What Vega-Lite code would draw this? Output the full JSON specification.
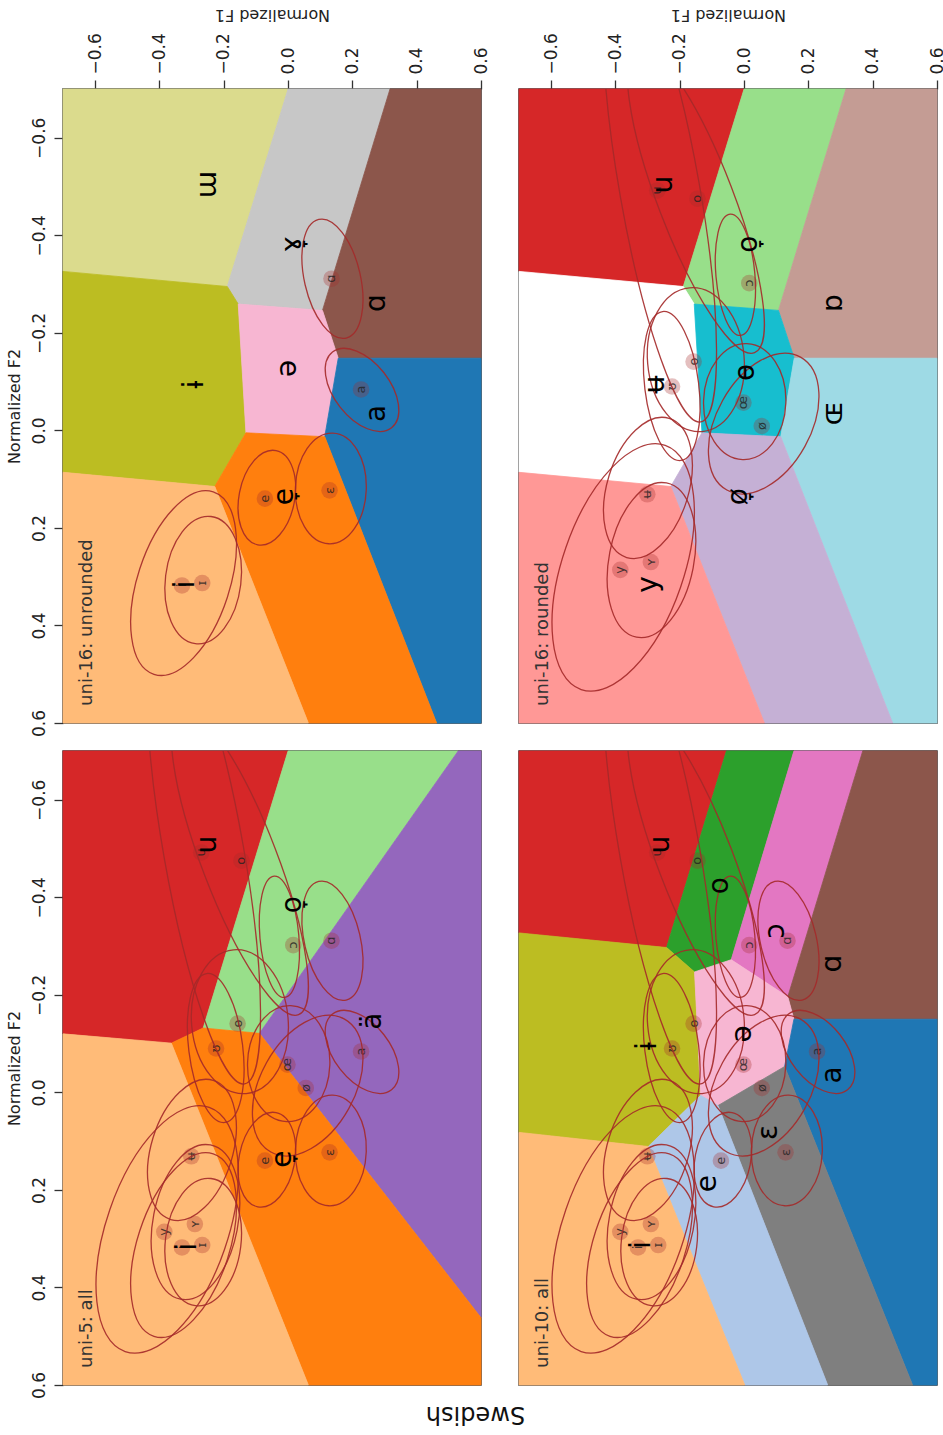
{
"$schema": "https://vega.github.io/schema/vega-lite/v6.json",
"background": "white",
"padding": 5,
"config": {
  "font": "DejaVu Sans",
  "view": {"stroke": "#333", "strokeWidth": 1.5},
  "axis": {"labelFontSize": 17, "titleFontSize": 16, "titleFontWeight": "normal", "labelColor": "#222", "titleColor": "#222", "tickColor": "#333", "tickWidth": 1.3, "tickSize": 9, "domain": false, "grid": false}
},
"title": {"text": "Swedish", "orient": "bottom", "anchor": "middle", "align": "center", "angle": 180, "baseline": "bottom", "fontSize": 24, "fontWeight": "normal", "color": "#111", "offset": 3},
"datasets": {
  "regions": [
    {"p":"p1","c":"ɯ","k":0,"f1":-0.7,"f2":-0.7},{"p":"p1","c":"ɯ","k":1,"f1":0.0,"f2":-0.7},{"p":"p1","c":"ɯ","k":2,"f1":-0.189,"f2":-0.295},{"p":"p1","c":"ɯ","k":3,"f1":-0.7,"f2":-0.326},
    {"p":"p1","c":"ɤ̞","k":0,"f1":0.0,"f2":-0.7},{"p":"p1","c":"ɤ̞","k":1,"f1":0.317,"f2":-0.7},{"p":"p1","c":"ɤ̞","k":2,"f1":0.107,"f2":-0.246},{"p":"p1","c":"ɤ̞","k":3,"f1":-0.155,"f2":-0.259},{"p":"p1","c":"ɤ̞","k":4,"f1":-0.189,"f2":-0.295},
    {"p":"p1","c":"ɑ","k":0,"f1":0.317,"f2":-0.7},{"p":"p1","c":"ɑ","k":1,"f1":0.6,"f2":-0.7},{"p":"p1","c":"ɑ","k":2,"f1":0.6,"f2":-0.148},{"p":"p1","c":"ɑ","k":3,"f1":0.156,"f2":-0.148},{"p":"p1","c":"ɑ","k":4,"f1":0.107,"f2":-0.246},
    {"p":"p1","c":"ɨ","k":0,"f1":-0.7,"f2":-0.326},{"p":"p1","c":"ɨ","k":1,"f1":-0.189,"f2":-0.295},{"p":"p1","c":"ɨ","k":2,"f1":-0.155,"f2":-0.259},{"p":"p1","c":"ɨ","k":3,"f1":-0.131,"f2":0.005},{"p":"p1","c":"ɨ","k":4,"f1":-0.228,"f2":0.115},{"p":"p1","c":"ɨ","k":5,"f1":-0.7,"f2":0.086},
    {"p":"p1","c":"ə","k":0,"f1":-0.155,"f2":-0.259},{"p":"p1","c":"ə","k":1,"f1":0.107,"f2":-0.246},{"p":"p1","c":"ə","k":2,"f1":0.156,"f2":-0.148},{"p":"p1","c":"ə","k":3,"f1":0.114,"f2":0.013},{"p":"p1","c":"ə","k":4,"f1":-0.131,"f2":0.005},
    {"p":"p1","c":"a","k":0,"f1":0.156,"f2":-0.148},{"p":"p1","c":"a","k":1,"f1":0.6,"f2":-0.148},{"p":"p1","c":"a","k":2,"f1":0.6,"f2":0.6},{"p":"p1","c":"a","k":3,"f1":0.462,"f2":0.6},{"p":"p1","c":"a","k":4,"f1":0.114,"f2":0.013},
    {"p":"p1","c":"e̞","k":0,"f1":-0.131,"f2":0.005},{"p":"p1","c":"e̞","k":1,"f1":0.114,"f2":0.013},{"p":"p1","c":"e̞","k":2,"f1":0.462,"f2":0.6},{"p":"p1","c":"e̞","k":3,"f1":0.063,"f2":0.6},{"p":"p1","c":"e̞","k":4,"f1":-0.228,"f2":0.115},
    {"p":"p1","c":"i","k":0,"f1":-0.7,"f2":0.086},{"p":"p1","c":"i","k":1,"f1":-0.228,"f2":0.115},{"p":"p1","c":"i","k":2,"f1":0.063,"f2":0.6},{"p":"p1","c":"i","k":3,"f1":-0.7,"f2":0.6},

    {"p":"p2","c":"u","k":0,"f1":-0.7,"f2":-0.7},{"p":"p2","c":"u","k":1,"f1":0.0,"f2":-0.7},{"p":"p2","c":"u","k":2,"f1":-0.189,"f2":-0.295},{"p":"p2","c":"u","k":3,"f1":-0.7,"f2":-0.326},
    {"p":"p2","c":"o̞","k":0,"f1":0.0,"f2":-0.7},{"p":"p2","c":"o̞","k":1,"f1":0.317,"f2":-0.7},{"p":"p2","c":"o̞","k":2,"f1":0.107,"f2":-0.246},{"p":"p2","c":"o̞","k":3,"f1":-0.155,"f2":-0.259},{"p":"p2","c":"o̞","k":4,"f1":-0.189,"f2":-0.295},
    {"p":"p2","c":"ɒ","k":0,"f1":0.317,"f2":-0.7},{"p":"p2","c":"ɒ","k":1,"f1":0.6,"f2":-0.7},{"p":"p2","c":"ɒ","k":2,"f1":0.6,"f2":-0.148},{"p":"p2","c":"ɒ","k":3,"f1":0.156,"f2":-0.148},{"p":"p2","c":"ɒ","k":4,"f1":0.107,"f2":-0.246},
    {"p":"p2","c":"ʉ","k":0,"f1":-0.7,"f2":-0.326},{"p":"p2","c":"ʉ","k":1,"f1":-0.189,"f2":-0.295},{"p":"p2","c":"ʉ","k":2,"f1":-0.155,"f2":-0.259},{"p":"p2","c":"ʉ","k":3,"f1":-0.131,"f2":0.005},{"p":"p2","c":"ʉ","k":4,"f1":-0.228,"f2":0.115},{"p":"p2","c":"ʉ","k":5,"f1":-0.7,"f2":0.086},
    {"p":"p2","c":"ɵ","k":0,"f1":-0.155,"f2":-0.259},{"p":"p2","c":"ɵ","k":1,"f1":0.107,"f2":-0.246},{"p":"p2","c":"ɵ","k":2,"f1":0.156,"f2":-0.148},{"p":"p2","c":"ɵ","k":3,"f1":0.114,"f2":0.013},{"p":"p2","c":"ɵ","k":4,"f1":-0.131,"f2":0.005},
    {"p":"p2","c":"ɶ","k":0,"f1":0.156,"f2":-0.148},{"p":"p2","c":"ɶ","k":1,"f1":0.6,"f2":-0.148},{"p":"p2","c":"ɶ","k":2,"f1":0.6,"f2":0.6},{"p":"p2","c":"ɶ","k":3,"f1":0.462,"f2":0.6},{"p":"p2","c":"ɶ","k":4,"f1":0.114,"f2":0.013},
    {"p":"p2","c":"ø̞","k":0,"f1":-0.131,"f2":0.005},{"p":"p2","c":"ø̞","k":1,"f1":0.114,"f2":0.013},{"p":"p2","c":"ø̞","k":2,"f1":0.462,"f2":0.6},{"p":"p2","c":"ø̞","k":3,"f1":0.063,"f2":0.6},{"p":"p2","c":"ø̞","k":4,"f1":-0.228,"f2":0.115},
    {"p":"p2","c":"y","k":0,"f1":-0.7,"f2":0.086},{"p":"p2","c":"y","k":1,"f1":-0.228,"f2":0.115},{"p":"p2","c":"y","k":2,"f1":0.063,"f2":0.6},{"p":"p2","c":"y","k":3,"f1":-0.7,"f2":0.6},

    {"p":"p3","c":"u","k":0,"f1":-0.7,"f2":-0.7},{"p":"p3","c":"u","k":1,"f1":0.0,"f2":-0.7},{"p":"p3","c":"u","k":2,"f1":-0.264,"f2":-0.132},{"p":"p3","c":"u","k":3,"f1":-0.363,"f2":-0.101},{"p":"p3","c":"u","k":4,"f1":-0.7,"f2":-0.12},
    {"p":"p3","c":"o̞","k":0,"f1":0.0,"f2":-0.7},{"p":"p3","c":"o̞","k":1,"f1":0.529,"f2":-0.7},{"p":"p3","c":"o̞","k":2,"f1":-0.089,"f2":-0.121},{"p":"p3","c":"o̞","k":3,"f1":-0.264,"f2":-0.132},
    {"p":"p3","c":"ä","k":0,"f1":0.529,"f2":-0.7},{"p":"p3","c":"ä","k":1,"f1":0.6,"f2":-0.7},{"p":"p3","c":"ä","k":2,"f1":0.6,"f2":0.462},{"p":"p3","c":"ä","k":3,"f1":-0.089,"f2":-0.121},
    {"p":"p3","c":"e̞","k":0,"f1":-0.264,"f2":-0.132},{"p":"p3","c":"e̞","k":1,"f1":-0.089,"f2":-0.121},{"p":"p3","c":"e̞","k":2,"f1":0.6,"f2":0.462},{"p":"p3","c":"e̞","k":3,"f1":0.6,"f2":0.6},{"p":"p3","c":"e̞","k":4,"f1":0.063,"f2":0.6},{"p":"p3","c":"e̞","k":5,"f1":-0.363,"f2":-0.101},
    {"p":"p3","c":"i","k":0,"f1":-0.7,"f2":-0.12},{"p":"p3","c":"i","k":1,"f1":-0.363,"f2":-0.101},{"p":"p3","c":"i","k":2,"f1":0.063,"f2":0.6},{"p":"p3","c":"i","k":3,"f1":-0.7,"f2":0.6},

    {"p":"p4","c":"u","k":0,"f1":-0.7,"f2":-0.7},{"p":"p4","c":"u","k":1,"f1":-0.055,"f2":-0.7},{"p":"p4","c":"u","k":2,"f1":-0.241,"f2":-0.297},{"p":"p4","c":"u","k":3,"f1":-0.7,"f2":-0.327},
    {"p":"p4","c":"o","k":0,"f1":-0.055,"f2":-0.7},{"p":"p4","c":"o","k":1,"f1":0.155,"f2":-0.7},{"p":"p4","c":"o","k":2,"f1":-0.04,"f2":-0.272},{"p":"p4","c":"o","k":3,"f1":-0.154,"f2":-0.247},{"p":"p4","c":"o","k":4,"f1":-0.241,"f2":-0.297},
    {"p":"p4","c":"ɔ","k":0,"f1":0.155,"f2":-0.7},{"p":"p4","c":"ɔ","k":1,"f1":0.369,"f2":-0.7},{"p":"p4","c":"ɔ","k":2,"f1":0.136,"f2":-0.196},{"p":"p4","c":"ɔ","k":3,"f1":-0.04,"f2":-0.272},
    {"p":"p4","c":"ɑ","k":0,"f1":0.369,"f2":-0.7},{"p":"p4","c":"ɑ","k":1,"f1":0.6,"f2":-0.7},{"p":"p4","c":"ɑ","k":2,"f1":0.6,"f2":-0.15},{"p":"p4","c":"ɑ","k":3,"f1":0.155,"f2":-0.15},{"p":"p4","c":"ɑ","k":4,"f1":0.136,"f2":-0.196},
    {"p":"p4","c":"ɨ","k":0,"f1":-0.7,"f2":-0.327},{"p":"p4","c":"ɨ","k":1,"f1":-0.241,"f2":-0.297},{"p":"p4","c":"ɨ","k":2,"f1":-0.154,"f2":-0.247},{"p":"p4","c":"ɨ","k":3,"f1":-0.135,"f2":0.006},{"p":"p4","c":"ɨ","k":4,"f1":-0.298,"f2":0.111},{"p":"p4","c":"ɨ","k":5,"f1":-0.7,"f2":0.082},
    {"p":"p4","c":"ə","k":0,"f1":-0.154,"f2":-0.247},{"p":"p4","c":"ə","k":1,"f1":-0.04,"f2":-0.272},{"p":"p4","c":"ə","k":2,"f1":0.136,"f2":-0.196},{"p":"p4","c":"ə","k":3,"f1":0.155,"f2":-0.15},{"p":"p4","c":"ə","k":4,"f1":0.126,"f2":-0.053},{"p":"p4","c":"ə","k":5,"f1":-0.081,"f2":0.027},{"p":"p4","c":"ə","k":6,"f1":-0.135,"f2":0.006},
    {"p":"p4","c":"a","k":0,"f1":0.155,"f2":-0.15},{"p":"p4","c":"a","k":1,"f1":0.6,"f2":-0.15},{"p":"p4","c":"a","k":2,"f1":0.6,"f2":0.6},{"p":"p4","c":"a","k":3,"f1":0.524,"f2":0.6},{"p":"p4","c":"a","k":4,"f1":0.126,"f2":-0.053},
    {"p":"p4","c":"ɛ","k":0,"f1":-0.081,"f2":0.027},{"p":"p4","c":"ɛ","k":1,"f1":0.126,"f2":-0.053},{"p":"p4","c":"ɛ","k":2,"f1":0.524,"f2":0.6},{"p":"p4","c":"ɛ","k":3,"f1":0.26,"f2":0.6},
    {"p":"p4","c":"e","k":0,"f1":-0.135,"f2":0.006},{"p":"p4","c":"e","k":1,"f1":-0.081,"f2":0.027},{"p":"p4","c":"e","k":2,"f1":0.26,"f2":0.6},{"p":"p4","c":"e","k":3,"f1":0.002,"f2":0.6},{"p":"p4","c":"e","k":4,"f1":-0.298,"f2":0.111},
    {"p":"p4","c":"i","k":0,"f1":-0.7,"f2":0.082},{"p":"p4","c":"i","k":1,"f1":-0.298,"f2":0.111},{"p":"p4","c":"i","k":2,"f1":0.002,"f2":0.6},{"p":"p4","c":"i","k":3,"f1":-0.7,"f2":0.6}
  ],
  "labels": [
    {"p":"p1","c":"ɯ","f1":-0.249,"f2":-0.504},{"p":"p1","c":"ɤ̞","f1":0.016,"f2":-0.382},{"p":"p1","c":"ɑ","f1":0.275,"f2":-0.261},{"p":"p1","c":"ɨ","f1":-0.29,"f2":-0.094},{"p":"p1","c":"ə","f1":0.0,"f2":-0.127},{"p":"p1","c":"a","f1":0.275,"f2":-0.035},{"p":"p1","c":"e̞","f1":-0.01,"f2":0.136},{"p":"p1","c":"i","f1":-0.316,"f2":0.316},
    {"p":"p2","c":"u","f1":-0.249,"f2":-0.504},{"p":"p2","c":"o̞","f1":0.015,"f2":-0.382},{"p":"p2","c":"ɒ","f1":0.279,"f2":-0.261},{"p":"p2","c":"ʉ","f1":-0.275,"f2":-0.094},{"p":"p2","c":"ɵ","f1":0.005,"f2":-0.119},{"p":"p2","c":"ɶ","f1":0.279,"f2":-0.035},{"p":"p2","c":"ø̞","f1":-0.016,"f2":0.136},{"p":"p2","c":"y","f1":-0.296,"f2":0.316},
    {"p":"p3","c":"u","f1":-0.249,"f2":-0.508},{"p":"p3","c":"o̞","f1":0.016,"f2":-0.385},{"p":"p3","c":"ä","f1":0.265,"f2":-0.146},{"p":"p3","c":"e̞","f1":-0.015,"f2":0.137},{"p":"p3","c":"i","f1":-0.311,"f2":0.317},
    {"p":"p4","c":"u","f1":-0.257,"f2":-0.508},{"p":"p4","c":"o","f1":-0.076,"f2":-0.424},{"p":"p4","c":"ɔ","f1":0.1,"f2":-0.331},{"p":"p4","c":"ɑ","f1":0.276,"f2":-0.264},{"p":"p4","c":"ɨ","f1":-0.298,"f2":-0.095},{"p":"p4","c":"ə","f1":-0.003,"f2":-0.12},{"p":"p4","c":"a","f1":0.276,"f2":-0.036},{"p":"p4","c":"ɛ","f1":0.079,"f2":0.082},{"p":"p4","c":"e","f1":-0.112,"f2":0.187},{"p":"p4","c":"i","f1":-0.319,"f2":0.313}
  ],
  "vowels": [
    {"v":"u","g":"r","f1":-0.27,"f2":-0.492},{"v":"o","g":"r","f1":-0.145,"f2":-0.475},{"v":"ɔ","g":"r","f1":0.016,"f2":-0.302},{"v":"ɑ","g":"u","f1":0.135,"f2":-0.311},
    {"v":"ɵ","g":"r","f1":-0.157,"f2":-0.141},{"v":"ʊ","g":"r","f1":-0.224,"f2":-0.09},{"v":"œ","g":"r","f1":-0.002,"f2":-0.057},{"v":"ø","g":"r","f1":0.055,"f2":-0.009},
    {"v":"a","g":"u","f1":0.227,"f2":-0.084},{"v":"ɛ","g":"u","f1":0.129,"f2":0.123},{"v":"e","g":"u","f1":-0.072,"f2":0.14},{"v":"ʉ","g":"r","f1":-0.301,"f2":0.131},
    {"v":"ʏ","g":"r","f1":-0.29,"f2":0.27},{"v":"y","g":"r","f1":-0.385,"f2":0.286},{"v":"ɪ","g":"u","f1":-0.267,"f2":0.313},{"v":"i","g":"u","f1":-0.33,"f2":0.318}
  ],
  "ellipses": [
    {"v":"u","g":"r","f1":-0.262,"f2":-0.492,"sd":0.73,"tilt":80,"ratio":"0.17"},
    {"v":"o","g":"r","f1":-0.15,"f2":-0.473,"sd":0.509,"tilt":69,"ratio":"0.23"},
    {"v":"ɔ","g":"r","f1":-0.027,"f2":-0.319,"sd":0.189,"tilt":85,"ratio":"0.32"},
    {"v":"ɑ","g":"u","f1":0.138,"f2":-0.311,"sd":0.189,"tilt":77,"ratio":"0.46"},
    {"v":"ɵ","g":"r","f1":-0.15,"f2":-0.145,"sd":0.224,"tilt":85,"ratio":"0.67"},
    {"v":"ʊ","g":"r","f1":-0.225,"f2":-0.091,"sd":0.233,"tilt":83,"ratio":"0.36"},
    {"v":"œ","g":"r","f1":0.002,"f2":-0.059,"sd":0.18,"tilt":92,"ratio":"0.71"},
    {"v":"ø","g":"r","f1":0.061,"f2":-0.014,"sd":0.236,"tilt":119,"ratio":"0.62"},
    {"v":"a","g":"u","f1":0.23,"f2":-0.083,"sd":0.149,"tilt":52,"ratio":"0.58"},
    {"v":"ɛ","g":"u","f1":0.133,"f2":0.119,"sd":0.172,"tilt":92,"ratio":"0.64"},
    {"v":"e","g":"u","f1":-0.066,"f2":0.138,"sd":0.149,"tilt":101,"ratio":"0.58"},
    {"v":"ʉ","g":"r","f1":-0.299,"f2":0.118,"sd":0.226,"tilt":107,"ratio":"0.56"},
    {"v":"ʏ","g":"r","f1":-0.288,"f2":0.266,"sd":0.244,"tilt":101,"ratio":"0.54"},
    {"v":"y","g":"r","f1":-0.376,"f2":0.281,"sd":0.401,"tilt":109,"ratio":"0.47"},
    {"v":"ɪ","g":"u","f1":-0.264,"f2":0.307,"sd":0.199,"tilt":97,"ratio":"0.59"},
    {"v":"i","g":"u","f1":-0.325,"f2":0.313,"sd":0.298,"tilt":108,"ratio":"0.48"}
  ],
  "titles": [
    {"p":"p1","t":"uni-16: unrounded","f1":-0.625,"f2":0.565},
    {"p":"p2","t":"uni-16: rounded","f1":-0.625,"f2":0.565},
    {"p":"p3","t":"uni-5: all","f1":-0.625,"f2":0.565},
    {"p":"p4","t":"uni-10: all","f1":-0.625,"f2":0.565}
  ]
},
"columns": 2,
"bounds": "flush",
"spacing": {"row": 28, "column": 38},
"concat": [
  {"width": 418, "height": 634,
   "encoding": {
     "x": {"field": "f1", "type": "quantitative", "scale": {"domain": [-0.7, 0.6], "nice": false, "zero": false},
           "axis": {"orient": "top", "title": "Normalized F1", "titleAngle": 180, "titleBaseline": "top", "values": [-0.6,-0.4,-0.2,0,0.2,0.4,0.6], "format": ".1f", "labelAngle": 270, "labelFlush": false, "labelOverlap": false, "labelPadding": 6, "titlePadding": 10}},
     "y": {"field": "f2", "type": "quantitative", "scale": {"domain": [-0.7, 0.6], "nice": false, "zero": false, "reverse": true},
           "axis": {"orient": "left", "title": "Normalized F2", "values": [-0.6,-0.4,-0.2,0,0.2,0.4,0.6], "format": ".1f", "labelAngle": 270, "labelFlush": false, "labelOverlap": false, "labelPadding": 6, "titlePadding": 8}}
   },
   "layer": [
    {"data": {"name": "regions"}, "transform": [{"filter": "datum.p==='p1'"}],
     "mark": {"type": "line", "interpolate": "linear-closed", "strokeWidth": 0.8},
     "encoding": {"order": {"field": "k", "type": "quantitative"}, "detail": {"field": "c", "type": "nominal"},
       "fill": {"field": "c", "type": "nominal", "legend": null, "scale": {"domain": ["ɯ","ɤ̞","ɑ","ɨ","ə","a","e̞","i","u","o̞","ɒ","ʉ","ɵ","ɶ","ø̞","y","ä","o","ɔ","ɛ","e"], "range": ["#dbdb8d","#c7c7c7","#8c564b","#bcbd22","#f7b6d2","#1f77b4","#ff7f0e","#ffbb78","#d62728","#98df8a","#c49c94","#ffffff","#17becf","#9edae5","#c5b0d5","#ff9896","#9467bd","#2ca02c","#e377c2","#7f7f7f","#aec7e8"]}},
       "stroke": {"field": "c", "type": "nominal", "legend": null, "scale": {"domain": ["ɯ","ɤ̞","ɑ","ɨ","ə","a","e̞","i","u","o̞","ɒ","ʉ","ɵ","ɶ","ø̞","y","ä","o","ɔ","ɛ","e"], "range": ["#dbdb8d","#c7c7c7","#8c564b","#bcbd22","#f7b6d2","#1f77b4","#ff7f0e","#ffbb78","#d62728","#98df8a","#c49c94","#ffffff","#17becf","#9edae5","#c5b0d5","#ff9896","#9467bd","#2ca02c","#e377c2","#7f7f7f","#aec7e8"]}}}},
    {"data": {"name": "vowels"}, "transform": [{"filter": "datum.g==='u'"}],
     "mark": {"type": "circle", "color": "#a52a2a", "opacity": 0.3, "size": 275}},
    {"data": {"name": "vowels"}, "transform": [{"filter": "datum.g==='u'"}],
     "mark": {"type": "text", "angle": 270, "fontSize": 13, "color": "#222", "opacity": 0.8},
     "encoding": {"text": {"field": "v"}}},
    {"data": {"name": "ellipses"}, "transform": [{"filter": "datum.g==='u'"}],
     "mark": {"type": "point", "filled": false, "clip": true, "color": "#a52a2a", "strokeWidth": 1.3, "opacity": 0.9},
     "encoding": {
       "size": {"field": "sd", "type": "quantitative", "legend": null, "scale": {"type": "pow", "exponent": 2, "domain": [0, 1], "range": [0, 414736]}},
       "angle": {"field": "tilt", "type": "quantitative", "scale": {"domain": [0, 360], "range": [0, 360]}},
       "shape": {"field": "ratio", "type": "nominal", "legend": null, "scale": {"domain": ["0.17","0.23","0.32","0.36","0.46","0.47","0.48","0.54","0.56","0.58","0.59","0.62","0.64","0.67","0.71"], "range": ["M-1,0A1,0.17,0,1,1,1,0A1,0.17,0,1,1,-1,0Z","M-1,0A1,0.23,0,1,1,1,0A1,0.23,0,1,1,-1,0Z","M-1,0A1,0.32,0,1,1,1,0A1,0.32,0,1,1,-1,0Z","M-1,0A1,0.36,0,1,1,1,0A1,0.36,0,1,1,-1,0Z","M-1,0A1,0.46,0,1,1,1,0A1,0.46,0,1,1,-1,0Z","M-1,0A1,0.47,0,1,1,1,0A1,0.47,0,1,1,-1,0Z","M-1,0A1,0.48,0,1,1,1,0A1,0.48,0,1,1,-1,0Z","M-1,0A1,0.54,0,1,1,1,0A1,0.54,0,1,1,-1,0Z","M-1,0A1,0.56,0,1,1,1,0A1,0.56,0,1,1,-1,0Z","M-1,0A1,0.58,0,1,1,1,0A1,0.58,0,1,1,-1,0Z","M-1,0A1,0.59,0,1,1,1,0A1,0.59,0,1,1,-1,0Z","M-1,0A1,0.62,0,1,1,1,0A1,0.62,0,1,1,-1,0Z","M-1,0A1,0.64,0,1,1,1,0A1,0.64,0,1,1,-1,0Z","M-1,0A1,0.67,0,1,1,1,0A1,0.67,0,1,1,-1,0Z","M-1,0A1,0.71,0,1,1,1,0A1,0.71,0,1,1,-1,0Z"]}}}},
    {"data": {"name": "labels"}, "transform": [{"filter": "datum.p==='p1'"}],
     "mark": {"type": "text", "angle": 270, "fontSize": 28, "color": "black"},
     "encoding": {"text": {"field": "c"}}},
    {"data": {"name": "titles"}, "transform": [{"filter": "datum.p==='p1'"}],
     "mark": {"type": "text", "angle": 270, "align": "left", "baseline": "middle", "fontSize": 18, "color": "#333"},
     "encoding": {"text": {"field": "t"}}}
   ]},
  {"width": 418, "height": 634,
   "encoding": {
     "x": {"field": "f1", "type": "quantitative", "scale": {"domain": [-0.7, 0.6], "nice": false, "zero": false},
           "axis": {"orient": "top", "title": "Normalized F1", "titleAngle": 180, "titleBaseline": "top", "values": [-0.6,-0.4,-0.2,0,0.2,0.4,0.6], "format": ".1f", "labelAngle": 270, "labelFlush": false, "labelOverlap": false, "labelPadding": 6, "titlePadding": 10}},
     "y": {"field": "f2", "type": "quantitative", "scale": {"domain": [-0.7, 0.6], "nice": false, "zero": false, "reverse": true}, "axis": null}
   },
   "layer": [
    {"data": {"name": "regions"}, "transform": [{"filter": "datum.p==='p2'"}],
     "mark": {"type": "line", "interpolate": "linear-closed", "strokeWidth": 0.8},
     "encoding": {"order": {"field": "k", "type": "quantitative"}, "detail": {"field": "c", "type": "nominal"},
       "fill": {"field": "c", "type": "nominal", "legend": null, "scale": {"domain": ["ɯ","ɤ̞","ɑ","ɨ","ə","a","e̞","i","u","o̞","ɒ","ʉ","ɵ","ɶ","ø̞","y","ä","o","ɔ","ɛ","e"], "range": ["#dbdb8d","#c7c7c7","#8c564b","#bcbd22","#f7b6d2","#1f77b4","#ff7f0e","#ffbb78","#d62728","#98df8a","#c49c94","#ffffff","#17becf","#9edae5","#c5b0d5","#ff9896","#9467bd","#2ca02c","#e377c2","#7f7f7f","#aec7e8"]}},
       "stroke": {"field": "c", "type": "nominal", "legend": null, "scale": {"domain": ["ɯ","ɤ̞","ɑ","ɨ","ə","a","e̞","i","u","o̞","ɒ","ʉ","ɵ","ɶ","ø̞","y","ä","o","ɔ","ɛ","e"], "range": ["#dbdb8d","#c7c7c7","#8c564b","#bcbd22","#f7b6d2","#1f77b4","#ff7f0e","#ffbb78","#d62728","#98df8a","#c49c94","#ffffff","#17becf","#9edae5","#c5b0d5","#ff9896","#9467bd","#2ca02c","#e377c2","#7f7f7f","#aec7e8"]}}}},
    {"data": {"name": "vowels"}, "transform": [{"filter": "datum.g==='r'"}],
     "mark": {"type": "circle", "color": "#a52a2a", "opacity": 0.3, "size": 275}},
    {"data": {"name": "vowels"}, "transform": [{"filter": "datum.g==='r'"}],
     "mark": {"type": "text", "angle": 270, "fontSize": 13, "color": "#222", "opacity": 0.8},
     "encoding": {"text": {"field": "v"}}},
    {"data": {"name": "ellipses"}, "transform": [{"filter": "datum.g==='r'"}],
     "mark": {"type": "point", "filled": false, "clip": true, "color": "#a52a2a", "strokeWidth": 1.3, "opacity": 0.9},
     "encoding": {
       "size": {"field": "sd", "type": "quantitative", "legend": null, "scale": {"type": "pow", "exponent": 2, "domain": [0, 1], "range": [0, 414736]}},
       "angle": {"field": "tilt", "type": "quantitative", "scale": {"domain": [0, 360], "range": [0, 360]}},
       "shape": {"field": "ratio", "type": "nominal", "legend": null, "scale": {"domain": ["0.17","0.23","0.32","0.36","0.46","0.47","0.48","0.54","0.56","0.58","0.59","0.62","0.64","0.67","0.71"], "range": ["M-1,0A1,0.17,0,1,1,1,0A1,0.17,0,1,1,-1,0Z","M-1,0A1,0.23,0,1,1,1,0A1,0.23,0,1,1,-1,0Z","M-1,0A1,0.32,0,1,1,1,0A1,0.32,0,1,1,-1,0Z","M-1,0A1,0.36,0,1,1,1,0A1,0.36,0,1,1,-1,0Z","M-1,0A1,0.46,0,1,1,1,0A1,0.46,0,1,1,-1,0Z","M-1,0A1,0.47,0,1,1,1,0A1,0.47,0,1,1,-1,0Z","M-1,0A1,0.48,0,1,1,1,0A1,0.48,0,1,1,-1,0Z","M-1,0A1,0.54,0,1,1,1,0A1,0.54,0,1,1,-1,0Z","M-1,0A1,0.56,0,1,1,1,0A1,0.56,0,1,1,-1,0Z","M-1,0A1,0.58,0,1,1,1,0A1,0.58,0,1,1,-1,0Z","M-1,0A1,0.59,0,1,1,1,0A1,0.59,0,1,1,-1,0Z","M-1,0A1,0.62,0,1,1,1,0A1,0.62,0,1,1,-1,0Z","M-1,0A1,0.64,0,1,1,1,0A1,0.64,0,1,1,-1,0Z","M-1,0A1,0.67,0,1,1,1,0A1,0.67,0,1,1,-1,0Z","M-1,0A1,0.71,0,1,1,1,0A1,0.71,0,1,1,-1,0Z"]}}}},
    {"data": {"name": "labels"}, "transform": [{"filter": "datum.p==='p2'"}],
     "mark": {"type": "text", "angle": 270, "fontSize": 28, "color": "black"},
     "encoding": {"text": {"field": "c"}}},
    {"data": {"name": "titles"}, "transform": [{"filter": "datum.p==='p2'"}],
     "mark": {"type": "text", "angle": 270, "align": "left", "baseline": "middle", "fontSize": 18, "color": "#333"},
     "encoding": {"text": {"field": "t"}}}
   ]},
  {"width": 418, "height": 634,
   "encoding": {
     "x": {"field": "f1", "type": "quantitative", "scale": {"domain": [-0.7, 0.6], "nice": false, "zero": false}, "axis": null},
     "y": {"field": "f2", "type": "quantitative", "scale": {"domain": [-0.7, 0.6], "nice": false, "zero": false, "reverse": true},
           "axis": {"orient": "left", "title": "Normalized F2", "values": [-0.6,-0.4,-0.2,0,0.2,0.4,0.6], "format": ".1f", "labelAngle": 270, "labelFlush": false, "labelOverlap": false, "labelPadding": 6, "titlePadding": 8}}
   },
   "layer": [
    {"data": {"name": "regions"}, "transform": [{"filter": "datum.p==='p3'"}],
     "mark": {"type": "line", "interpolate": "linear-closed", "strokeWidth": 0.8},
     "encoding": {"order": {"field": "k", "type": "quantitative"}, "detail": {"field": "c", "type": "nominal"},
       "fill": {"field": "c", "type": "nominal", "legend": null, "scale": {"domain": ["ɯ","ɤ̞","ɑ","ɨ","ə","a","e̞","i","u","o̞","ɒ","ʉ","ɵ","ɶ","ø̞","y","ä","o","ɔ","ɛ","e"], "range": ["#dbdb8d","#c7c7c7","#8c564b","#bcbd22","#f7b6d2","#1f77b4","#ff7f0e","#ffbb78","#d62728","#98df8a","#c49c94","#ffffff","#17becf","#9edae5","#c5b0d5","#ff9896","#9467bd","#2ca02c","#e377c2","#7f7f7f","#aec7e8"]}},
       "stroke": {"field": "c", "type": "nominal", "legend": null, "scale": {"domain": ["ɯ","ɤ̞","ɑ","ɨ","ə","a","e̞","i","u","o̞","ɒ","ʉ","ɵ","ɶ","ø̞","y","ä","o","ɔ","ɛ","e"], "range": ["#dbdb8d","#c7c7c7","#8c564b","#bcbd22","#f7b6d2","#1f77b4","#ff7f0e","#ffbb78","#d62728","#98df8a","#c49c94","#ffffff","#17becf","#9edae5","#c5b0d5","#ff9896","#9467bd","#2ca02c","#e377c2","#7f7f7f","#aec7e8"]}}}},
    {"data": {"name": "vowels"},
     "mark": {"type": "circle", "color": "#a52a2a", "opacity": 0.3, "size": 275}},
    {"data": {"name": "vowels"},
     "mark": {"type": "text", "angle": 270, "fontSize": 13, "color": "#222", "opacity": 0.8},
     "encoding": {"text": {"field": "v"}}},
    {"data": {"name": "ellipses"},
     "mark": {"type": "point", "filled": false, "clip": true, "color": "#a52a2a", "strokeWidth": 1.3, "opacity": 0.9},
     "encoding": {
       "size": {"field": "sd", "type": "quantitative", "legend": null, "scale": {"type": "pow", "exponent": 2, "domain": [0, 1], "range": [0, 414736]}},
       "angle": {"field": "tilt", "type": "quantitative", "scale": {"domain": [0, 360], "range": [0, 360]}},
       "shape": {"field": "ratio", "type": "nominal", "legend": null, "scale": {"domain": ["0.17","0.23","0.32","0.36","0.46","0.47","0.48","0.54","0.56","0.58","0.59","0.62","0.64","0.67","0.71"], "range": ["M-1,0A1,0.17,0,1,1,1,0A1,0.17,0,1,1,-1,0Z","M-1,0A1,0.23,0,1,1,1,0A1,0.23,0,1,1,-1,0Z","M-1,0A1,0.32,0,1,1,1,0A1,0.32,0,1,1,-1,0Z","M-1,0A1,0.36,0,1,1,1,0A1,0.36,0,1,1,-1,0Z","M-1,0A1,0.46,0,1,1,1,0A1,0.46,0,1,1,-1,0Z","M-1,0A1,0.47,0,1,1,1,0A1,0.47,0,1,1,-1,0Z","M-1,0A1,0.48,0,1,1,1,0A1,0.48,0,1,1,-1,0Z","M-1,0A1,0.54,0,1,1,1,0A1,0.54,0,1,1,-1,0Z","M-1,0A1,0.56,0,1,1,1,0A1,0.56,0,1,1,-1,0Z","M-1,0A1,0.58,0,1,1,1,0A1,0.58,0,1,1,-1,0Z","M-1,0A1,0.59,0,1,1,1,0A1,0.59,0,1,1,-1,0Z","M-1,0A1,0.62,0,1,1,1,0A1,0.62,0,1,1,-1,0Z","M-1,0A1,0.64,0,1,1,1,0A1,0.64,0,1,1,-1,0Z","M-1,0A1,0.67,0,1,1,1,0A1,0.67,0,1,1,-1,0Z","M-1,0A1,0.71,0,1,1,1,0A1,0.71,0,1,1,-1,0Z"]}}}},
    {"data": {"name": "labels"}, "transform": [{"filter": "datum.p==='p3'"}],
     "mark": {"type": "text", "angle": 270, "fontSize": 28, "color": "black"},
     "encoding": {"text": {"field": "c"}}},
    {"data": {"name": "titles"}, "transform": [{"filter": "datum.p==='p3'"}],
     "mark": {"type": "text", "angle": 270, "align": "left", "baseline": "middle", "fontSize": 18, "color": "#333"},
     "encoding": {"text": {"field": "t"}}}
   ]},
  {"width": 418, "height": 634,
   "encoding": {
     "x": {"field": "f1", "type": "quantitative", "scale": {"domain": [-0.7, 0.6], "nice": false, "zero": false}, "axis": null},
     "y": {"field": "f2", "type": "quantitative", "scale": {"domain": [-0.7, 0.6], "nice": false, "zero": false, "reverse": true}, "axis": null}
   },
   "layer": [
    {"data": {"name": "regions"}, "transform": [{"filter": "datum.p==='p4'"}],
     "mark": {"type": "line", "interpolate": "linear-closed", "strokeWidth": 0.8},
     "encoding": {"order": {"field": "k", "type": "quantitative"}, "detail": {"field": "c", "type": "nominal"},
       "fill": {"field": "c", "type": "nominal", "legend": null, "scale": {"domain": ["ɯ","ɤ̞","ɑ","ɨ","ə","a","e̞","i","u","o̞","ɒ","ʉ","ɵ","ɶ","ø̞","y","ä","o","ɔ","ɛ","e"], "range": ["#dbdb8d","#c7c7c7","#8c564b","#bcbd22","#f7b6d2","#1f77b4","#ff7f0e","#ffbb78","#d62728","#98df8a","#c49c94","#ffffff","#17becf","#9edae5","#c5b0d5","#ff9896","#9467bd","#2ca02c","#e377c2","#7f7f7f","#aec7e8"]}},
       "stroke": {"field": "c", "type": "nominal", "legend": null, "scale": {"domain": ["ɯ","ɤ̞","ɑ","ɨ","ə","a","e̞","i","u","o̞","ɒ","ʉ","ɵ","ɶ","ø̞","y","ä","o","ɔ","ɛ","e"], "range": ["#dbdb8d","#c7c7c7","#8c564b","#bcbd22","#f7b6d2","#1f77b4","#ff7f0e","#ffbb78","#d62728","#98df8a","#c49c94","#ffffff","#17becf","#9edae5","#c5b0d5","#ff9896","#9467bd","#2ca02c","#e377c2","#7f7f7f","#aec7e8"]}}}},
    {"data": {"name": "vowels"},
     "mark": {"type": "circle", "color": "#a52a2a", "opacity": 0.3, "size": 275}},
    {"data": {"name": "vowels"},
     "mark": {"type": "text", "angle": 270, "fontSize": 13, "color": "#222", "opacity": 0.8},
     "encoding": {"text": {"field": "v"}}},
    {"data": {"name": "ellipses"},
     "mark": {"type": "point", "filled": false, "clip": true, "color": "#a52a2a", "strokeWidth": 1.3, "opacity": 0.9},
     "encoding": {
       "size": {"field": "sd", "type": "quantitative", "legend": null, "scale": {"type": "pow", "exponent": 2, "domain": [0, 1], "range": [0, 414736]}},
       "angle": {"field": "tilt", "type": "quantitative", "scale": {"domain": [0, 360], "range": [0, 360]}},
       "shape": {"field": "ratio", "type": "nominal", "legend": null, "scale": {"domain": ["0.17","0.23","0.32","0.36","0.46","0.47","0.48","0.54","0.56","0.58","0.59","0.62","0.64","0.67","0.71"], "range": ["M-1,0A1,0.17,0,1,1,1,0A1,0.17,0,1,1,-1,0Z","M-1,0A1,0.23,0,1,1,1,0A1,0.23,0,1,1,-1,0Z","M-1,0A1,0.32,0,1,1,1,0A1,0.32,0,1,1,-1,0Z","M-1,0A1,0.36,0,1,1,1,0A1,0.36,0,1,1,-1,0Z","M-1,0A1,0.46,0,1,1,1,0A1,0.46,0,1,1,-1,0Z","M-1,0A1,0.47,0,1,1,1,0A1,0.47,0,1,1,-1,0Z","M-1,0A1,0.48,0,1,1,1,0A1,0.48,0,1,1,-1,0Z","M-1,0A1,0.54,0,1,1,1,0A1,0.54,0,1,1,-1,0Z","M-1,0A1,0.56,0,1,1,1,0A1,0.56,0,1,1,-1,0Z","M-1,0A1,0.58,0,1,1,1,0A1,0.58,0,1,1,-1,0Z","M-1,0A1,0.59,0,1,1,1,0A1,0.59,0,1,1,-1,0Z","M-1,0A1,0.62,0,1,1,1,0A1,0.62,0,1,1,-1,0Z","M-1,0A1,0.64,0,1,1,1,0A1,0.64,0,1,1,-1,0Z","M-1,0A1,0.67,0,1,1,1,0A1,0.67,0,1,1,-1,0Z","M-1,0A1,0.71,0,1,1,1,0A1,0.71,0,1,1,-1,0Z"]}}}},
    {"data": {"name": "labels"}, "transform": [{"filter": "datum.p==='p4'"}],
     "mark": {"type": "text", "angle": 270, "fontSize": 28, "color": "black"},
     "encoding": {"text": {"field": "c"}}},
    {"data": {"name": "titles"}, "transform": [{"filter": "datum.p==='p4'"}],
     "mark": {"type": "text", "angle": 270, "align": "left", "baseline": "middle", "fontSize": 18, "color": "#333"},
     "encoding": {"text": {"field": "t"}}}
   ]}
]
}
